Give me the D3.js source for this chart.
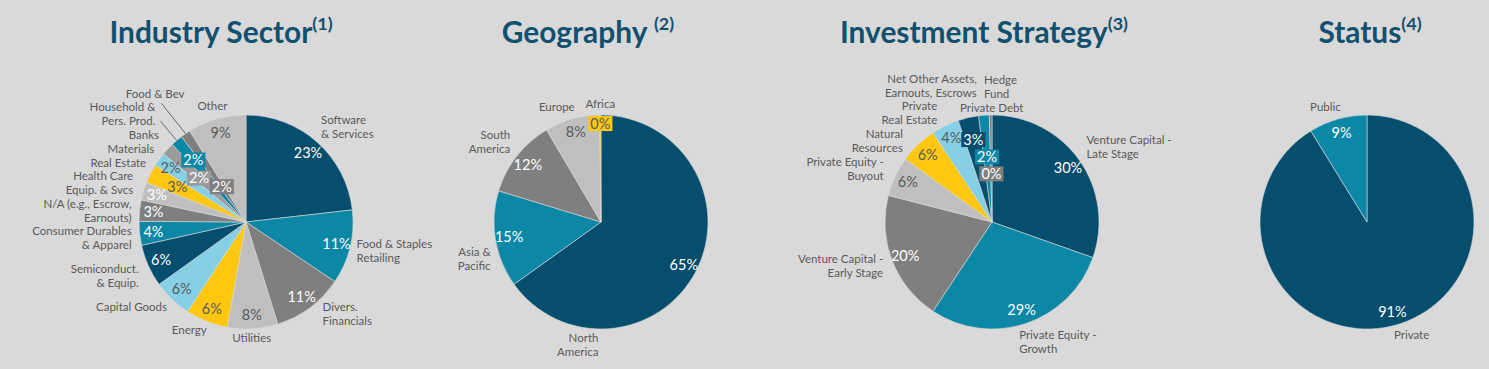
<!DOCTYPE html>
<html>
<head>
<meta charset="utf-8">
<script src="https://cdn.jsdelivr.net/npm/d3@7"></script>
<style>
  html, body { margin: 0; padding: 0; background: #d9d9d9; }
  text { font-family: Lato, "Open Sans", sans-serif; }
</style>
</head>
<body>
<div id="chart"></div>
<script>
// --- DATA (% of total) ---
const industryCats = ['Software\n& Services', 'Food & Staples\nRetailing', 'Divers.\nFinancials', 'Utilities',
  'Energy', 'Capital Goods', 'Semiconduct.\n& Equip.', 'Consumer Durables\n& Apparel',
  'N/A (e.g., Escrow,\nEarnouts)', 'Health Care\nEquip. & Svcs', 'Real Estate', 'Materials', 'Banks',
  'Household &\nPers. Prod.', 'Food & Bev', 'Other'];
const industryVals = [23.2, 11.2, 10.8, 7.6, 6.4, 5.9, 6.4, 3.6, 3.2, 2.7, 2.9, 2.1, 1.9, 1.8, 1.5, 8.8];

const geographyCats = ['North\nAmerica', 'Asia &\nPacific', 'South\nAmerica', 'Europe', 'Africa'];
const geographyVals = [65.1, 14.6, 11.8, 8.3, 0.2];

const strategyCats = ['Venture Capital -\nLate Stage', 'Private Equity -\nGrowth', 'Venture Capital -\nEarly Stage',
  'Private Equity -\nBuyout', 'Natural\nResources', 'Private\nReal Estate', 'Net Other Assets,\nEarnouts, Escrows',
  'Private Debt', 'Hedge\nFund'];
const strategyVals = [30.4, 28.9, 19.7, 6.0, 5.7, 4.2, 3.1, 1.6, 0.4];

const statusCats = ['Private', 'Public'];
const statusVals = [91.2, 8.8];

const titleText = ['Industry Sector', 'Geography ', 'Investment Strategy', 'Status'];
const titleNote = ['(1)', '(2)', '(3)', '(4)'];

// --- STYLE ---
const W = 1489, H = 369;
const C = { navy: '#064e6e', teal: '#0c87a5', grey: '#7f7f7f', lgrey: '#bfbfbf',
            yellow: '#ffc70f', lblue: '#86d0e6', bank: '#9a9a9a' };
const darkText = '#595959';
const onLight = new Set([C.lgrey, C.yellow, C.lblue]);
const cycle = [C.navy, C.teal, C.grey, C.lgrey, C.yellow, C.lblue];

const svg = d3.select('#chart').append('svg')
  .attr('width', W).attr('height', H);
svg.append('rect').attr('width', W).attr('height', H).attr('fill', '#d9d9d9');

// --- PIE DRAWING ---
function drawPie(cfg) {
  const g = svg.append('g').attr('transform', `translate(${cfg.cx},${cfg.cy})`);
  const pie = d3.pie().sort(null).value(d => d.v);
  const arcs = pie(cfg.cats.map((c, i) => ({ c, v: cfg.vals[i] })));
  const arc = d3.arc().innerRadius(0).outerRadius(cfg.r);
  const mid = d => (d.startAngle + d.endAngle) / 2;
  const polar = (a, rr) => [rr * Math.sin(a), -rr * Math.cos(a)];

  g.selectAll('path.slice')
    .data(arcs)
    .enter().append('path')
      .attr('class', 'slice')
      .attr('d', arc)
      .attr('fill', d => cfg.colors[d.index])
      .attr('stroke', '#d9d9d9')
      .attr('stroke-width', 0.6);

  // category labels outside
  arcs.forEach(d => {
    const a = mid(d), s = Math.sin(a);
    const lay = (cfg.nameLay && cfg.nameLay[d.index]) || {};
    let [x, y] = polar(a, cfg.r * 1.15);
    x += lay.dx || 0; y += lay.dy || 0;
    const anchor = lay.anchor || (Math.abs(s) < 0.3 ? 'middle' : s > 0 ? 'start' : 'end');
    const lines = d.data.c.split('\n');
    const t = g.append('text')
      .attr('text-anchor', anchor)
      .attr('font-size', 11.5)
      .attr('fill', darkText);
    lines.forEach((ln, k) => {
      t.append('tspan')
        .attr('x', x)
        .attr('y', y + (k - (lines.length - 1) / 2) * 14)
        .attr('dy', '0.35em')
        .text(ln);
    });
    if (lay.leader) {
      const p = polar(a, cfg.r);
      g.append('line')
        .attr('x1', x + lay.leader[0]).attr('y1', y + lay.leader[1])
        .attr('x2', p[0]).attr('y2', p[1])
        .attr('stroke', darkText).attr('stroke-width', 0.9);
    }
  });

  // percentage labels
  arcs.forEach(d => {
    const k = (cfg.pctK && cfg.pctK[d.index] != null) ? cfg.pctK[d.index] : 0.87;
    const [x, y] = polar(mid(d), cfg.r * k);
    const col = cfg.colors[d.index];
    const white = (cfg.pctWhite || []).includes(d.index) || !onLight.has(col);
    const lg = g.append('g');
    const t = lg.append('text')
      .attr('x', x).attr('y', y).attr('dy', '0.35em')
      .attr('text-anchor', 'middle')
      .attr('font-size', 14.5)
      .attr('fill', white ? '#fff' : darkText)
      .text(Math.round(d.data.v) + '%');
    if ((cfg.boxed || []).includes(d.index)) {
      const bb = t.node().getBBox();
      lg.insert('rect', 'text')
        .attr('x', bb.x - 2).attr('y', y - 7.5)
        .attr('width', bb.width + 4).attr('height', 15)
        .attr('fill', col);
    }
  });
}

// --- TITLES ---
function drawTitles(xs) {
  const probe = svg.append('text').attr('font-size', 30).attr('font-weight', 700).text(titleText[0]);
  const fs = 30 * 203 / probe.node().getComputedTextLength();
  probe.remove();
  titleText.forEach((tx, i) => {
    const t = svg.append('text')
      .attr('x', xs[i]).attr('y', 43)
      .attr('text-anchor', 'middle')
      .attr('font-weight', 700)
      .attr('font-size', fs)
      .attr('fill', '#11506f');
    t.append('tspan').text(tx);
    t.append('tspan').attr('font-size', fs * 0.6).attr('dy', -fs * 0.42).text(titleNote[i]);
  });
}

drawTitles([221, 588, 984, 1370]);

drawPie({
  cats: industryCats, vals: industryVals, cx: 246, cy: 222, r: 107,
  colors: [C.navy, C.teal, C.grey, C.lgrey, C.yellow, C.lblue, C.navy, C.teal, C.grey, C.lgrey,
           C.yellow, C.lblue, C.bank, C.teal, C.grey, C.lgrey],
  pctK: { 10: 0.72, 12: 0.6, 13: 0.76, 14: 0.40 },
  pctWhite: [9],
  boxed: [12, 13, 14],
  nameLay: {
    0: { dx: -7, dy: -3 }, 1: { dx: -9, dy: 0 }, 2: { dx: 3, dy: -7 }, 3: { dx: -2, dy: -7 },
    4: { dx: 6, dy: -6 }, 5: { dx: 6, dy: -4 }, 6: { dx: 5, dy: 4 }, 7: { dx: 8, dy: 3 },
    8: { dx: 8, dy: 2 }, 9: { dx: 5, dy: -4 }, 10: { dx: 10, dy: -4 }, 11: { dx: 8, dy: -1 },
    12: { dx: 3, dy: -3 }, 13: { dx: -11, dy: -14, leader: [5, 7] },
    14: { dx: 8, dy: -26, leader: [-23, 9] }, 15: { dx: 0, dy: 2 }
  }
});

drawPie({
  cats: geographyCats, vals: geographyVals, cx: 601, cy: 222, r: 107,
  colors: [C.navy, C.teal, C.grey, C.lgrey, C.yellow],
  pctK: { 4: 0.92 },
  boxed: [4],
  nameLay: {
    0: { dx: -112, dy: 67, anchor: 'end' }, 1: { dx: 11, dy: 17 }, 2: { dx: 6, dy: -4 },
    3: { dx: -11, dy: 3 }, 4: { dx: 0, dy: 5 }
  }
});

drawPie({
  cats: strategyCats, vals: strategyVals, cx: 992, cy: 222, r: 107,
  colors: [C.navy, C.teal, C.grey, C.lgrey, C.yellow, C.lblue, C.navy, C.teal, C.grey],
  pctK: { 6: 0.79, 7: 0.61, 8: 0.45 },
  boxed: [6, 7, 8],
  nameLay: {
    0: { dx: -6, dy: -4 }, 1: { dx: -12, dy: 3 }, 2: { dx: 6, dy: 0 }, 3: { dx: 3, dy: -1 },
    4: { dx: -4, dy: 8 }, 5: { dx: -1, dy: 1.5 }, 6: { dx: 12, dy: -16, anchor: 'end' },
    7: { dx: 9, dy: 9 }, 8: { dx: -6.5, dy: -12.4, anchor: 'start' }
  }
});

drawPie({
  cats: statusCats, vals: statusVals, cx: 1367, cy: 222, r: 107,
  colors: [C.navy, C.teal],
  nameLay: { 0: { dx: 11, dy: -5 }, 1: { dx: -8, dy: 3 } }
});
</script>
</body>
</html>
